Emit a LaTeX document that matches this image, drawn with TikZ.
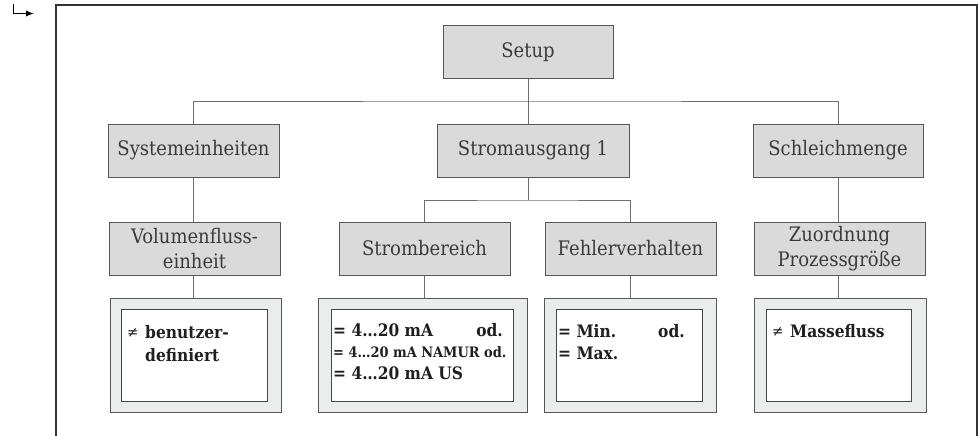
\documentclass[tikz,border=0pt]{standalone}
\usepackage{fontspec}
\setmainfont{DejaVu Serif Condensed}
\usetikzlibrary{arrows.meta}
\definecolor{boxfill}{HTML}{DADADA}
\definecolor{boxline}{HTML}{575757}
\definecolor{wirecol}{HTML}{6E6E6E}
\definecolor{panelfill}{HTML}{EBECEC}
\definecolor{labeltext}{HTML}{3A3A3A}
\begin{document}
\begin{tikzpicture}[x=1pt,y=-1pt,
  menu/.style={draw=boxline, fill=boxfill, line width=1pt, minimum width=171pt,
    minimum height=53pt, inner sep=0pt, align=center,
    font=\fontsize{20}{25}\selectfont, text=labeltext},
  panel/.style={draw=boxline, fill=panelfill, line width=1pt, inner sep=0pt,
    minimum height=114pt},
  screen/.style={draw=boxline!80!black, fill=white, line width=1pt, inner sep=0pt,
    minimum height=92pt},
  wire/.style={draw=wirecol, line width=1pt},
  val/.style={anchor=base west, inner sep=0pt,
    font=\fontsize{17.2}{20}\selectfont\bfseries, text=black!88},
  valsmall/.style={val, font=\fontsize{14.4}{16}\selectfont\bfseries},
  neq/.style={anchor=base west, inner sep=0pt,
    font=\fontsize{15}{20}\selectfont, text=black!88},
]
\useasboundingbox (0,0) rectangle (980,436);

% page frame, open at the bottom
\draw[line width=1.4pt, draw=black!80] (56,436) -- (56,5) -- (977,5) -- (977,436);
% continuation arrow
\draw[line width=1.8pt, draw=black, -{Latex[length=8pt,width=6.5pt]}]
  (13.5,4) -- (13.5,13.5) -- (34,13.5);

% menu boxes
\node[menu, minimum width=170pt] (setup) at (528,52.5) {Setup};
\node[menu] (sys) at (193.5,150.5) {Systemeinheiten};
\node[menu, minimum width=192pt] (strom) at (533,150.5) {Stromausgang 1};
\node[menu, minimum width=170pt] (schl) at (838,150.5) {Schleichmenge};
\node[menu] (vol) at (194.5,248.5) {Volumenfluss-\\einheit};
\node[menu] (bereich) at (424.5,248.5) {Strombereich};
\node[menu] (fehler) at (630.5,248.5) {Fehlerverhalten};
\node[menu] (zuord) at (839.5,248.5) {Zuordnung\\Prozessgröße};

% value panels with display windows
\node[panel, minimum width=171pt] (volp) at (195.5,355) {};
\node[screen, minimum width=146pt] (vols) at (194,355) {};
\node[panel, minimum width=209pt] (bereichp) at (422.5,355) {};
\node[screen, minimum width=182pt] (bereichs) at (422,355) {};
\node[panel, minimum width=172pt] (fehlerp) at (630,355) {};
\node[screen, minimum width=146pt] (fehlers) at (629,355) {};
\node[panel, minimum width=172pt] (zuordp) at (840,355) {};
\node[screen, minimum width=145pt] (zuords) at (838.5,355) {};

% connectors
\coordinate (bus1) at (528,101);
\coordinate (bus2) at (528,200);
\draw[wire] (setup.south) -- (setup.south |- strom.north);
\draw[wire] (sys.north) |- (bus1) -| (schl.north);
\draw[wire] (sys.south) -- (sys.south |- vol.north);
\draw[wire] (strom.south -| bus2) -- (bus2);
\draw[wire] (bereich.north) |- (bus2) -| (fehler.north);
\draw[wire] (vol.south -| sys.south) -- (sys.south |- volp.north);
\draw[wire] (bereich.south) -- (bereich.south |- bereichp.north);
\draw[wire] (fehler.south) -- (fehler.south |- fehlerp.north);
\draw[wire] (schl.south) -- (schl.south |- zuord.north);
\draw[wire] (zuord.south -| schl.south) -- (schl.south |- zuordp.north);

% display texts
\node[neq] (volne) at (127,337) {≠};
\node[val] (vola) at (145,338) {benutzer-};
\node[val] (volb) at (145,361) {definiert};

\node[val] (bra) at (333,336) {= 4…20 mA};
\node[val, anchor=base east] (brod) at (503,336) {od.};
\node[valsmall] (brb) at (333,357) {= 4…20 mA NAMUR od.};
\node[val] (brc) at (333,379) {= 4…20 mA US};

\node[val] (fva) at (558,337) {= Min.};
\node[val] (fvod) at (658,337) {od.};
\node[val] (fvb) at (558,359) {= Max.};

\node[neq] (zune) at (772,336) {≠};
\node[val] (zua) at (790,337) {Massefluss};
\end{tikzpicture}
\end{document}
